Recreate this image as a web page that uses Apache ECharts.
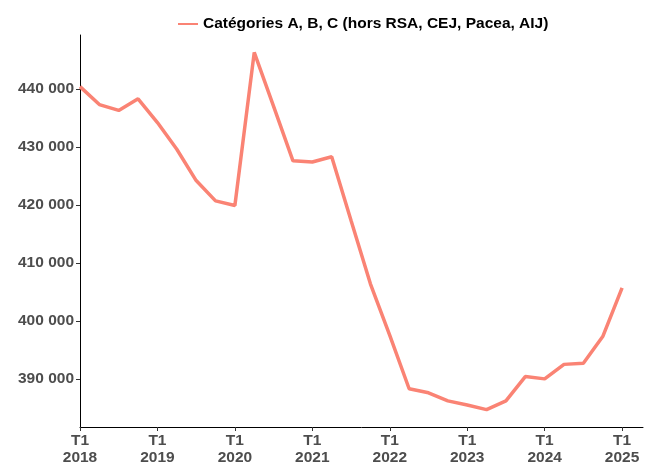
<!DOCTYPE html>
<html><head><meta charset="utf-8">
<script src="https://cdn.jsdelivr.net/npm/echarts@6/dist/echarts.min.js"></script>
<style>html,body{margin:0;padding:0;background:#fff}#c{width:645px;height:466px}</style>
</head><body><div id="c"></div>
<script>
const seriesName = 'Catégories A, B, C (hors RSA, CEJ, Pacea, AIJ)';
const quarters = ['2018T1','2018T2','2018T3','2018T4','2019T1','2019T2','2019T3','2019T4','2020T1','2020T2','2020T3','2020T4','2021T1','2021T2','2021T3','2021T4','2022T1','2022T2','2022T3','2022T4','2023T1','2023T2','2023T3','2023T4','2024T1','2024T2','2024T3','2024T4','2025T1'];
const values = [440400,437300,436300,438300,434200,429600,424200,420700,419900,446300,437000,427600,427400,428300,417300,406400,397500,388300,387600,386200,385500,384700,386200,390400,390000,392500,392700,397300,405700];
const xTickLabels = ['T1\n2018','T1\n2019','T1\n2020','T1\n2021','T1\n2022','T1\n2023','T1\n2024','T1\n2025'];
const yTicks = [390000,400000,410000,420000,430000,440000];

const chart = echarts.init(document.getElementById('c'));
const fmt = v => String(v).replace(/\B(?=(\d{3})+(?!\d))/g, ' ');
chart.setOption({
  animation:false,
  textStyle:{fontFamily:'Liberation Sans, Arial, sans-serif'},
  legend:{
    top:11, left:173, itemWidth:20, itemHeight:10, itemGap:9,
    textStyle:{fontSize:15.5, fontWeight:'bold', color:'#000'},
    data:[{name:seriesName, icon:'path://M0,4L20,4L20,6L0,6Z'}]
  },
  grid:{left:80, right:2, top:35, bottom:37, containLabel:false},
  xAxis:{
    type:'value', min:0, max:29.08, interval:4,
    axisLine:{lineStyle:{color:'#000', width:1}},
    axisTick:{show:true, length:4, lineStyle:{color:'#333'}},
    splitLine:{show:false},
    axisLabel:{
      showMaxLabel:false,
      fontSize:15.5, fontWeight:'bold', color:'#4d4d4d', lineHeight:17, margin:5,
      formatter: v => xTickLabels[Math.round(v/4)] || ''
    }
  },
  yAxis:{
    type:'value', min:381700, max:449300,
    axisLine:{show:true, lineStyle:{color:'#000', width:1}},
    axisTick:{show:true, length:4, lineStyle:{color:'#333'}, customValues:yTicks},
    splitLine:{show:false},
    axisLabel:{fontSize:15.5, fontWeight:'bold', color:'#4d4d4d', margin:6, customValues:yTicks, formatter: fmt}
  },
  series:[{
    name:seriesName, type:'line', showSymbol:false,
    data: values.map((v,i)=>[i,v]),
    lineStyle:{color:'#FA8374', width:3.5},
    itemStyle:{color:'#FA8374'}
  }]
});
</script></body></html>
